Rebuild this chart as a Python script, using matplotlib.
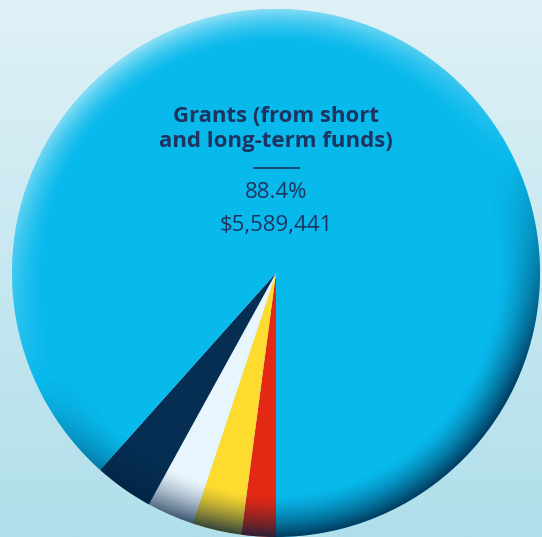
import numpy as np
import matplotlib
matplotlib.use("Agg")
import matplotlib.pyplot as plt
from matplotlib.patches import Circle

# slices, clockwise from 6 o'clock
labels = ["Other A", "Other B", "Other C", "Other D", "Grants (from short\nand long-term funds)"]
shares = [2.1, 3.0, 2.9, 3.6, 88.4]
colors = ["#e32913", "#fedb2f", "#e9f5fd", "#052e52", "#08b9ec"]
grant_pct = "88.4%"
grant_amount = "$5,589,441"

W, H = 542, 537
cx, cy, R = 276, H - 273, 264

fig = plt.figure(figsize=(W / 100, H / 100), dpi=100)
ax = fig.add_axes([0, 0, 1, 1])

# background gradient
top = np.array([0xdf, 0xf1, 0xf6]) / 255
bot = np.array([0xb0, 0xdf, 0xeb]) / 255
g = np.linspace(0, 1, 256)[:, None]
bg = top[None, None, :] * (1 - g[..., None]) + bot[None, None, :] * g[..., None]
bg = np.repeat(bg, 2, axis=1)
ax.imshow(bg, extent=[0, W, 0, H], origin="upper", aspect="auto", zorder=0)

wedges, _ = ax.pie(shares, colors=colors, startangle=-90, counterclock=False,
                   center=(cx, cy), radius=R, frame=True,
                   wedgeprops=dict(linewidth=0))
for w in wedges:
    w.set_zorder(1)
ax.set_xlim(0, W)
ax.set_ylim(0, H)
ax.set_aspect("equal")
ax.axis("off")

# rim shading: light from upper left, shadow toward lower right
n = 600
xs = np.linspace(-1, 1, n)
X, Y = np.meshgrid(xs, xs[::-1])
r = np.sqrt(X ** 2 + Y ** 2)
t_hi = np.clip((r - 0.87) / 0.13, 0, 1) ** 1.6
t_lo = np.clip((r - 0.84) / 0.16, 0, 1) ** 1.4
ang = np.deg2rad(115)
d = (X * np.cos(ang) + Y * np.sin(ang)) / np.maximum(r, 1e-6)
shade = np.zeros((n, n, 4))
hi = np.clip(d, 0, 1) * t_hi * 0.55
lo = np.clip(-d * 1.3, 0, 1) * t_lo * 0.8
alpha = hi + lo
col_hi = np.array([1.0, 1.0, 1.0])
col_lo = np.array([0.0, 0.12, 0.25])
mix = np.where(alpha[..., None] > 0, (hi[..., None] * col_hi + lo[..., None] * col_lo) / np.maximum(alpha[..., None], 1e-6), 0)
shade[..., :3] = mix
shade[..., 3] = np.clip(alpha, 0, 1)
im = ax.imshow(shade, extent=[cx - R, cx + R, cy - R, cy + R], origin="upper", zorder=2)
clip = Circle((cx, cy), R, transform=ax.transData)
im.set_clip_path(clip)

txt = "#1d3461"
fam = ["Open Sans", "DejaVu Sans"]
ax.text(cx, H - 129, labels[-1], ha="center", va="center", fontsize=16,
        fontweight="bold", color=txt, family=fam, linespacing=1.22, zorder=3)
ax.plot([254, 299], [H - 168, H - 168], color=txt, lw=1.2, zorder=3)
ax.text(cx, H - 192, grant_pct, ha="center", va="center", fontsize=16,
        color=txt, family=fam, zorder=3)
ax.text(cx, H - 225, grant_amount, ha="center", va="center", fontsize=16,
        color=txt, family=fam, zorder=3)

fig.savefig("out.png", dpi=100)
